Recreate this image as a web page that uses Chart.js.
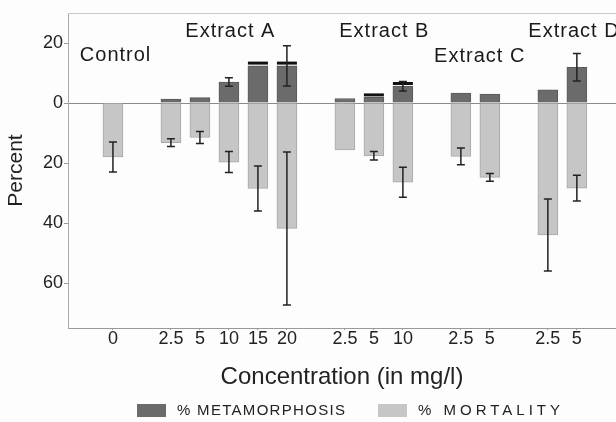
<!DOCTYPE html>
<html>
<head>
<meta charset="utf-8">
<script src="https://cdn.jsdelivr.net/npm/chart.js@4"></script>
<style>
  html, body { margin: 0; padding: 0; background: #fdfdfd; }
  #wrap { width: 616px; height: 422px; position: relative; }
</style>
</head>
<body>
<div id="wrap"><canvas id="grafica"></canvas></div>
<script>
// Datos del gráfico
const posiciones = [0, 2, 3, 4, 5, 6, 8, 9, 10, 12, 13, 15, 16]; // huecos entre extractos
const concentraciones = ['0', '2.5', '5', '10', '15', '20', '2.5', '5', '10', '2.5', '5', '2.5', '5'];
const metamorfosis = [0, 1.3, 1.8, 7, 12.4, 12.4, 1.5, 1.9, 5.6, 3.3, 3, 4.4, 11.9];
const errorMetamorfosis = [0, 0, 0, 1.4, 0, 6.7, 0, 0, 1.6, 0, 0, 0, 4.6];
const mortalidad = [18, 13.2, 11.5, 19.7, 28.5, 41.8, 15.6, 17.6, 26.4, 17.8, 24.8, 44, 28.4];
const errorMortalidad = [5, 1.3, 2, 3.5, 7.5, 25.5, 0, 1.4, 5, 2.8, 1.3, 12, 4.3];
const marcasNegras = [null, null, null, null, 13.3, 13.3, null, 2.7, 6.5, null, null, null, null];
const grupos = ['Control', 'Extract A', 'Extract B', 'Extract C', 'Extract D'];
const ticksY = [20, 0, -20, -40, -60];

const fuente = "'Liberation Sans', Arial, sans-serif";

// Barras de error, etiquetas de grupo y leyenda
const pluginExtras = {
    id: 'extras',
    beforeDatasetsDraw(chart) {
        const {ctx, chartArea} = chart;
        ctx.save();
        ctx.strokeStyle = '#c8c8c8';
        ctx.lineWidth = 1;
        ctx.beginPath();
        ctx.moveTo(chartArea.left, chartArea.top + 0.5);
        ctx.lineTo(chartArea.right, chartArea.top + 0.5);
        ctx.stroke();
        ctx.restore();
    },
    afterDatasetsDraw(chart) {
        const {ctx} = chart;
        const x = chart.scales.x;
        const y = chart.scales.y;
        ctx.save();
        ctx.strokeStyle = '#222';
        ctx.lineWidth = 1.5;
        const dibujar = (px, v1, v2) => {
            const y1 = y.getPixelForValue(v1);
            const y2 = y.getPixelForValue(v2);
            ctx.beginPath();
            ctx.moveTo(px, y1); ctx.lineTo(px, y2);
            ctx.moveTo(px - 4, y1); ctx.lineTo(px + 4, y1);
            ctx.moveTo(px - 4, y2); ctx.lineTo(px + 4, y2);
            ctx.stroke();
        };
        posiciones.forEach((p, i) => {
            const px = x.getPixelForValue(p);
            if (errorMortalidad[i] > 0) {
                dibujar(px, -(mortalidad[i] - errorMortalidad[i]), -(mortalidad[i] + errorMortalidad[i]));
            }
            if (errorMetamorfosis[i] > 0) {
                dibujar(px, metamorfosis[i] - errorMetamorfosis[i], metamorfosis[i] + errorMetamorfosis[i]);
            }
        });
        // Nombres de los grupos
        const lugares = [[0.09, 15.7], [4.05, 24], [9.36, 24], [12.65, 15.5], [15.9, 24]];
        ctx.fillStyle = '#1a1a1a';
        ctx.font = '20px ' + fuente;
        ctx.letterSpacing = '1px';
        ctx.textAlign = 'center';
        ctx.textBaseline = 'middle';
        grupos.forEach((g, i) => {
            ctx.fillText(g, x.getPixelForValue(lugares[i][0]), y.getPixelForValue(lugares[i][1]));
        });
        ctx.restore();
    },
    afterDraw(chart) {
        // Leyenda
        const {ctx} = chart;
        ctx.save();
        ctx.font = '15px ' + fuente;
        ctx.textBaseline = 'middle';
        ctx.textAlign = 'left';
        const items = [
            {txt: '% METAMORPHOSIS', fill: '#6b6b6b', x: 137, esp: '1.3px'},
            {txt: '% MORTALITY', fill: '#c6c6c6', x: 378, esp: '4px'}
        ];
        items.forEach(it => {
            ctx.fillStyle = it.fill;
            ctx.fillRect(it.x, 404, 29, 13);
            ctx.fillStyle = '#222';
            ctx.letterSpacing = it.esp;
            ctx.fillText(it.txt, it.x + 40, 411);
        });
        ctx.restore();
    }
};

const ctxGrafica = document.getElementById('grafica');

new Chart(ctxGrafica, {
    data: {
        datasets: [
            {
                type: 'bar',
                label: '% METAMORPHOSIS',
                data: posiciones.map((p, i) => ({x: p, y: metamorfosis[i]})),
                backgroundColor: '#6b6b6b',
                borderColor: '#5a5a5a',
                borderWidth: 1,
                barThickness: 20,
                grouped: false
            },
            {
                type: 'bar',
                label: '% MORTALITY',
                data: posiciones.map((p, i) => ({x: p, y: -mortalidad[i]})),
                backgroundColor: '#c6c6c6',
                borderColor: '#a8a8a8',
                borderWidth: 1,
                barThickness: 20,
                grouped: false
            },
            {
                type: 'scatter',
                label: 'marcas',
                data: posiciones.map((p, i) => ({x: p, y: marcasNegras[i]})),
                pointStyle: 'line',
                pointRadius: 10,
                borderColor: '#111',
                borderWidth: 3
            }
        ]
    },
    options: {
        responsive: true,
        maintainAspectRatio: false,
        animation: false,
        layout: { autoPadding: false, padding: { top: 13, right: 0, bottom: 30, left: 0 } },
        plugins: {
            legend: { display: false },
            tooltip: { enabled: false }
        },
        scales: {
            x: {
                type: 'linear',
                offset: false,
                min: -1.55,
                max: 17.35,
                afterBuildTicks: scale => {
                    scale.ticks = posiciones.map(p => ({value: p}));
                },
                afterFit: scale => {
                    scale.height = 64;
                    scale.paddingLeft = 0;
                    scale.paddingRight = 0;
                },
                ticks: {
                    autoSkip: false,
                    maxRotation: 0,
                    color: '#222',
                    font: { family: fuente, size: 18, lineHeight: 1 },
                    padding: 0,
                    callback: (v) => {
                        const i = posiciones.indexOf(v);
                        return i >= 0 ? concentraciones[i] : '';
                    }
                },
                grid: { drawOnChartArea: false, offset: false, tickLength: 2, color: '#999' },
                border: { color: '#999' },
                title: {
                    display: true,
                    text: 'Concentration (in mg/l)',
                    color: '#222',
                    font: { family: fuente, size: 24 },
                    padding: { top: 0, bottom: 0 }
                }
            },
            y: {
                min: -75,
                max: 30,
                afterBuildTicks: scale => {
                    scale.ticks = ticksY.map(v => ({value: v}));
                },
                afterFit: scale => { scale.width = 68; },
                ticks: {
                    color: '#222',
                    font: { family: fuente, size: 18 },
                    padding: 1,
                    callback: v => Math.abs(v)
                },
                grid: {
                    color: c => c.tick && c.tick.value === 0 ? '#8a8a8a' : 'rgba(0,0,0,0)',
                    tickColor: '#999',
                    tickLength: 4
                },
                border: { color: '#aaa' },
                title: {
                    display: true,
                    text: 'Percent',
                    color: '#222',
                    font: { family: fuente, size: 21 },
                    padding: { top: 4, bottom: 4 }
                }
            }
        }
    },
    plugins: [pluginExtras]
});
</script>
</body>
</html>
